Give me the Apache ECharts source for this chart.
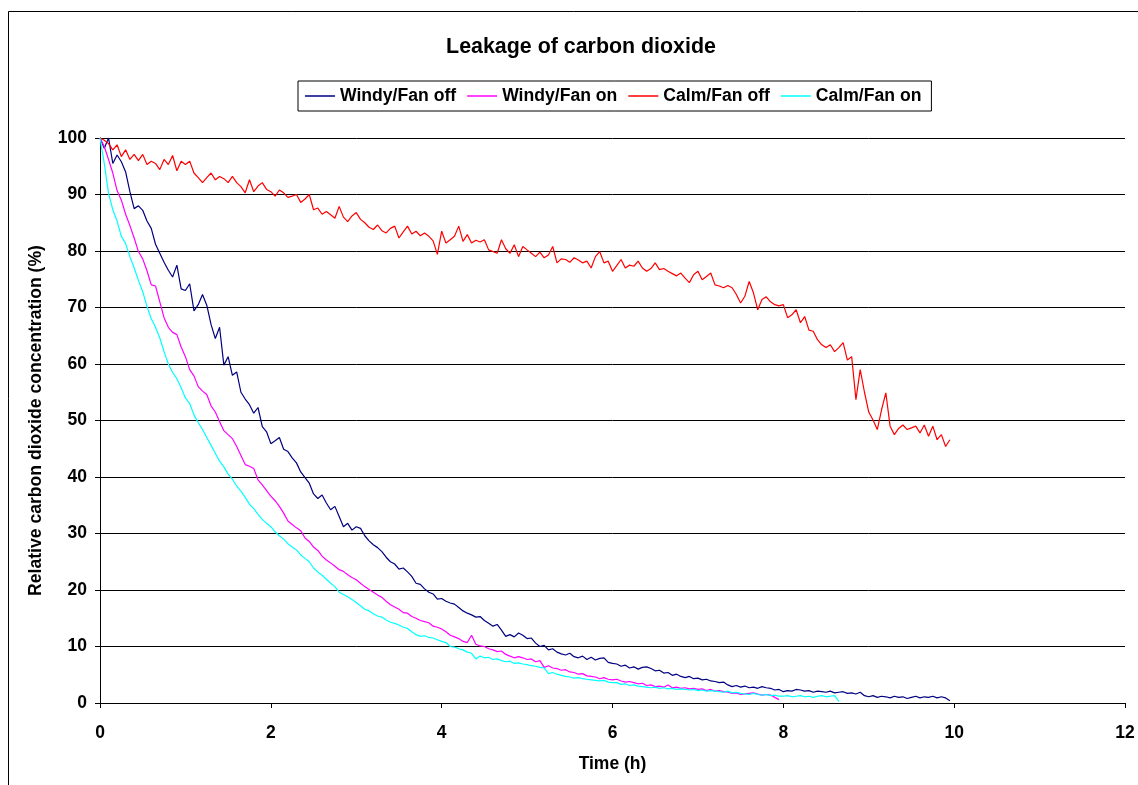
<!DOCTYPE html>
<html>
<head>
<meta charset="utf-8">
<title>Leakage of carbon dioxide</title>
<script src="https://cdn.jsdelivr.net/npm/echarts@6/dist/echarts.min.js"></script>
<style>
  html, body { margin: 0; padding: 0; background: #fff; }
  #chart { width: 1138px; height: 785px; }
</style>
</head>
<body>
<div id="chart"></div>
<script>
// Samples are logged every 0.05 h (3 minutes), starting at t = 0.
const SAMPLE_STEP_H = 0.05;

const seriesNames = ['Windy/Fan off', 'Windy/Fan on', 'Calm/Fan off', 'Calm/Fan on'];
const xTicks = [0, 2, 4, 6, 8, 10, 12];
const yTicks = [0, 10, 20, 30, 40, 50, 60, 70, 80, 90, 100];

// Relative CO2 concentration (%), one row per hour
const windyFanOff = [
  100, 98.2, 100, 95.5, 97.0, 95.8, 94.0, 90.5, 87.5, 88.0, 87.2, 85.3, 84.0, 81.2, 79.6, 78.0, 76.6, 75.4, 77.5, 73.3,
  73.0, 74.2, 69.4, 70.5, 72.3, 70.4, 67.0, 64.5, 66.5, 59.8, 61.3, 58.0, 58.6, 55.0, 53.8, 52.8, 51.3, 52.3, 48.9, 48.0,
  45.9, 46.4, 47.0, 44.9, 44.5, 43.4, 42.5, 40.9, 39.9, 38.9, 37.0, 36.2, 36.8, 35.4, 34.2, 34.8, 33.0, 31.2, 31.8, 30.6,
  31.2, 30.9, 29.6, 28.7, 28.0, 27.5, 26.8, 25.8, 25.0, 24.6, 23.7, 23.9, 23.2, 22.4, 21.2, 21.0, 20.2, 19.6, 19.3, 18.4,
  18.5, 18.0, 17.7, 17.5, 16.9, 16.3, 15.9, 15.6, 15.2, 15.3, 14.6, 14.1, 13.6, 13.9, 12.9, 11.8, 12.1, 11.7, 12.4, 12.0,
  11.4, 11.5, 10.6, 10.0, 10.2, 9.4, 9.6, 9.0, 8.7, 8.5, 8.8, 8.2, 8.0, 8.3, 7.7, 8.1, 7.6, 7.9, 8.0, 7.2,
  7.0, 6.9, 6.5, 6.7, 6.2, 6.4, 6.0, 6.3, 6.4, 6.1, 5.7, 5.8, 5.3, 5.4, 4.9, 5.1, 4.7, 4.5, 4.7, 4.3,
  4.4, 4.1, 4.2, 3.9, 3.8, 3.6, 3.7, 3.2, 2.9, 3.1, 2.8, 3.0, 2.7, 2.8, 2.6, 2.9, 2.7, 2.6, 2.3, 2.4,
  2.0, 2.2, 2.1, 2.4, 2.3, 2.1, 2.2, 1.9, 2.1, 2.0, 1.9, 2.1, 1.8, 1.9, 2.0, 1.7, 1.8, 1.6, 1.9, 1.3,
  1.1, 1.3, 1.0, 1.2, 1.1, 0.9, 1.2, 1.0, 1.1, 0.8, 1.0, 1.2, 0.9, 1.1, 1.0, 1.2, 0.9, 1.1, 0.9, 0.4
];

const windyFanOn = [
  100, 98.5, 96.2, 93.8, 90.7, 89.0, 86.5, 84.5, 82.3, 79.9, 78.6, 76.5, 74.0, 73.8, 71.0, 68.2, 66.5, 65.6, 65.2, 63.0,
  61.3, 59.0, 57.9, 56.0, 55.2, 54.6, 52.6, 51.5, 49.8, 48.2, 47.5, 46.8, 45.4, 43.8, 42.2, 41.9, 41.5, 39.5, 38.6, 37.6,
  36.6, 35.8, 34.8, 33.6, 32.2, 31.6, 31.0, 30.5, 29.2, 28.6, 27.6, 27.0, 26.0, 25.3, 24.8, 24.2, 23.6, 23.3, 22.7, 22.2,
  21.8, 21.2, 20.6, 20.1, 19.6, 19.1, 18.7, 18.0, 17.4, 17.0, 16.6, 16.0, 15.9, 15.3, 15.0, 14.6, 14.4, 14.2, 13.6, 13.4,
  13.1, 12.6, 12.0, 11.7, 11.4, 10.9, 10.7, 12.0, 10.4, 10.1, 10.0, 9.6, 9.4, 9.1, 9.2, 8.6, 8.3, 8.0, 8.2, 8.0,
  7.7, 7.8, 7.3, 7.5, 6.3, 6.6, 6.2, 6.1, 5.8, 5.9, 5.5, 5.4, 5.1, 5.2, 4.8, 4.7, 4.6, 4.3, 4.5, 4.2,
  4.1, 4.2, 3.9, 3.7, 3.8, 3.6, 3.4, 3.5, 3.1, 3.2, 2.9, 3.0, 2.8, 3.2, 2.7, 2.8, 2.6, 2.7, 2.5, 2.6,
  2.4, 2.5, 2.2, 2.4, 2.1, 2.2, 2.0, 1.9, 1.7, 1.8, 1.5, 1.6, 1.7, 1.8, 1.6, 1.4, 1.5, 1.4, 1.0, 0.6
];

const calmFanOff = [
  100, 99.6, 99.0, 97.9, 98.8, 96.7, 97.9, 96.2, 97.1, 96.0, 97.1, 95.3, 95.9, 95.5, 94.4, 96.2, 95.3, 96.9, 94.2, 95.9,
  95.3, 95.9, 93.8, 93.0, 92.1, 93.0, 93.8, 92.6, 93.2, 92.8, 92.1, 93.2, 92.1, 91.4, 90.3, 92.6, 90.5, 91.5, 92.1, 90.9,
  90.5, 89.7, 90.8, 90.3, 89.5, 89.7, 90.0, 88.6, 89.2, 90.0, 87.3, 87.6, 86.5, 87.0, 86.4, 85.8, 87.9, 86.0, 85.2, 86.2,
  86.8, 85.6, 85.0, 84.2, 83.8, 84.6, 83.6, 83.2, 84.0, 84.4, 82.3, 83.4, 84.4, 83.0, 83.5, 82.7, 83.2, 82.6, 81.8, 79.4,
  83.5, 81.4, 82.0, 82.6, 84.4, 81.7, 82.9, 81.4, 81.9, 81.6, 82.0, 80.2, 79.9, 79.6, 82.0, 80.4, 79.6, 81.1, 79.0, 80.8,
  80.2, 79.6, 79.0, 79.8, 78.8, 79.3, 80.8, 77.9, 78.6, 78.5, 78.0, 78.8, 78.4, 77.9, 78.2, 77.0, 79.0, 79.9, 77.9, 78.2,
  76.4, 77.4, 78.5, 77.0, 77.5, 77.3, 78.2, 77.0, 76.4, 76.9, 77.9, 76.7, 76.9, 76.4, 76.0, 75.6, 76.1, 75.2, 74.4, 75.8,
  76.4, 74.9, 75.5, 76.1, 74.0, 73.8, 73.5, 73.9, 73.5, 72.3, 70.8, 72.0, 74.6, 72.6, 69.6, 71.4, 71.9, 71.0, 70.5, 70.3,
  70.5, 68.2, 68.7, 69.6, 67.3, 68.4, 66.0, 65.8, 64.3, 63.4, 62.9, 63.4, 62.2, 62.9, 63.8, 60.7, 61.3, 53.7, 59.0, 55.0,
  51.5, 50.1, 48.4, 51.9, 54.9, 49.0, 47.5, 48.6, 49.2, 48.4, 48.7, 49.0, 47.8, 49.2, 47.2, 49.0, 46.6, 47.5, 45.4, 46.6
];

const calmFanOn = [
  100, 95.5, 90.2, 87.3, 85.3, 82.6, 81.3, 79.0, 77.0, 74.8, 72.8, 70.2, 68.0, 66.5, 64.6, 62.2, 60.0, 58.5, 57.4, 55.8,
  54.0, 53.0, 51.0, 49.6, 48.4, 47.0, 45.6, 44.2, 42.8, 41.8, 40.5, 39.6, 38.4, 37.5, 36.4, 35.2, 34.4, 33.4, 32.5, 31.8,
  31.2, 30.3, 29.6, 29.0, 28.2, 27.6, 27.1, 26.2, 25.6, 25.0, 23.9, 23.2, 22.6, 21.9, 21.2, 20.6, 19.6, 19.2, 18.8, 18.3,
  17.8, 17.2, 16.6, 16.3, 15.8, 15.4, 15.2, 14.7, 14.3, 14.1, 13.8, 13.4, 13.2, 12.6, 12.1, 11.8, 11.9, 11.6, 11.5, 11.2,
  10.9, 10.7, 10.0, 9.9, 9.6, 9.4, 9.0, 8.8, 7.8, 8.3, 8.0, 8.1, 7.7, 7.8, 7.5, 7.3, 7.4, 7.0, 7.1, 6.9,
  6.8, 6.6, 6.5, 6.3, 6.2, 5.2, 5.4, 5.1, 4.9, 4.7, 4.6, 4.4, 4.5, 4.3, 4.2, 4.1, 4.0, 3.9, 4.0, 3.7,
  3.6, 3.6, 3.3, 3.4, 3.1, 3.2, 3.0, 2.9, 2.8, 2.7, 2.8, 2.6, 2.7, 2.5, 2.6, 2.4, 2.5, 2.4, 2.3, 2.4,
  2.2, 2.3, 2.1, 2.2, 2.1, 2.0, 1.9, 2.1, 1.8, 1.9, 1.7, 1.6, 1.5, 1.7, 1.5, 1.4, 1.5, 1.3, 1.4, 1.2,
  1.2, 1.3, 1.1, 1.2, 1.3, 1.1, 1.2, 1.0, 1.2, 1.3, 1.1, 1.2, 1.3, 0.3
];

const seriesColors = ['#000080', '#FF00FF', '#FF0000', '#00FFFF'];
const seriesValues = [windyFanOff, windyFanOn, calmFanOff, calmFanOn];

const FONT = '"Liberation Sans", Arial, Helvetica, sans-serif';

// Pair each reading with its sample time in hours
function toPoints(values) {
  return values.map((v, i) => [Math.round(i * SAMPLE_STEP_H * 100) / 100, v]);
}

const chart = echarts.init(document.getElementById('chart'), null, { renderer: 'canvas' });

chart.setOption({
  animation: false,
  backgroundColor: '#ffffff',
  textStyle: { fontFamily: FONT },
  title: {
    text: 'Leakage of carbon dioxide',
    left: 576,
    top: 32,
    textAlign: 'center',
    textStyle: { fontFamily: FONT, fontSize: 21.4, fontWeight: 'bold', color: '#000' }
  },
  legend: {
    data: seriesNames,
    left: 298,
    top: 81,
    orient: 'horizontal',
    icon: 'rect',
    itemWidth: 30,
    itemHeight: 1.5,
    itemGap: 11,
    padding: [6, 10, 6, 7],
    borderColor: '#000',
    borderWidth: 1,
    textStyle: { fontFamily: FONT, fontSize: 17.6, fontWeight: 'bold', color: '#000' }
  },
  grid: { left: 100, right: 13, top: 138, bottom: 82, containLabel: false },
  xAxis: {
    type: 'value',
    min: xTicks[0],
    max: xTicks[xTicks.length - 1],
    interval: 2,
    name: 'Time (h)',
    nameLocation: 'middle',
    nameGap: 52,
    nameTextStyle: { fontFamily: FONT, fontSize: 17.5, fontWeight: 'bold', color: '#000' },
    axisLine: { show: true, lineStyle: { color: '#000', width: 1 } },
    axisTick: { show: true, inside: false, length: 5, lineStyle: { color: '#000' } },
    axisLabel: { margin: 21, fontFamily: FONT, fontSize: 17.5, fontWeight: 'bold', color: '#000' },
    splitLine: { show: false }
  },
  yAxis: {
    type: 'value',
    min: yTicks[0],
    max: yTicks[yTicks.length - 1],
    interval: 10,
    name: 'Relative carbon dioxide concentration (%)',
    nameLocation: 'middle',
    nameGap: 55,
    nameRotate: 90,
    nameTextStyle: { fontFamily: FONT, fontSize: 17.6, fontWeight: 'bold', color: '#000' },
    axisLine: { show: true, lineStyle: { color: '#000', width: 1 } },
    axisTick: { show: true, inside: false, length: 5, lineStyle: { color: '#000' } },
    axisLabel: { margin: 13, fontFamily: FONT, fontSize: 17.5, fontWeight: 'bold', color: '#000' },
    splitLine: { show: true, lineStyle: { color: '#000', width: 1 } }
  },
  graphic: [{
    type: 'rect',
    silent: true,
    z: -10,
    shape: { x: 8.5, y: 11.5, width: 1400, height: 1000 },
    style: { fill: 'none', stroke: '#000', lineWidth: 1 }
  }],
  series: seriesNames.map((name, k) => ({
    name: name,
    type: 'line',
    data: toPoints(seriesValues[k]),
    symbol: 'none',
    showSymbol: false,
    smooth: false,
    lineStyle: { color: seriesColors[k], width: 1.2 },
    itemStyle: { color: seriesColors[k] },
    z: 2 + k
  }))
});
</script>
</body>
</html>
